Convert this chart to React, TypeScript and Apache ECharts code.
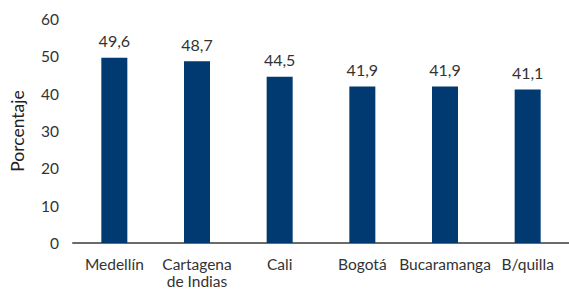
import React, { useEffect, useRef } from "react";
import * as echarts from "echarts";

const categories = ["Medellín", "Cartagena\nde Indias", "Cali", "Bogotá", "Bucaramanga", "B/quilla"];
const values = [49.6, 48.7, 44.5, 41.9, 41.9, 41.1];
const yTicks = { min: 0, max: 60, interval: 10 };

export default function App() {
  const ref = useRef<HTMLDivElement>(null);
  useEffect(() => {
    if (!ref.current) return;
    const chart = echarts.init(ref.current, null, { renderer: "svg" });
    const font = "Lato";
    chart.setOption({
      animation: false,
      grid: { left: 72, right: -5, top: 19, bottom: 47 },
      xAxis: {
        type: "category",
        data: categories,
        axisLine: { show: true, lineStyle: { color: "#6b6b6b", width: 2 } },
        axisTick: { show: false },
        axisLabel: { color: "#333", fontSize: 15.5, fontFamily: font, margin: 12, lineHeight: 17, interval: 0 },
      },
      yAxis: {
        type: "value",
        min: yTicks.min,
        max: yTicks.max,
        interval: yTicks.interval,
        name: "Porcentaje",
        nameLocation: "middle",
        nameGap: 47,
        nameTextStyle: { color: "#222", fontSize: 17.5, fontFamily: font },
        splitLine: { show: false },
        axisLine: { show: false },
        axisTick: { show: false },
        axisLabel: { color: "#333", fontSize: 15.5, fontFamily: font, margin: 14 },
      },
      series: [
        {
          type: "bar",
          data: values,
          barWidth: 26,
          itemStyle: { color: "#003a70" },
          label: {
            show: true,
            position: "top",
            distance: 9,
            color: "#333",
            fontSize: 16,
            fontFamily: font,
            formatter: (p: any) => String(p.value.toFixed(1)).replace(".", ","),
          },
        },
      ],
    });
    return () => chart.dispose();
  }, []);
  return <div ref={ref} style={{ width: 569, height: 290, position: "absolute", left: 0, top: 0 }} />;
}
